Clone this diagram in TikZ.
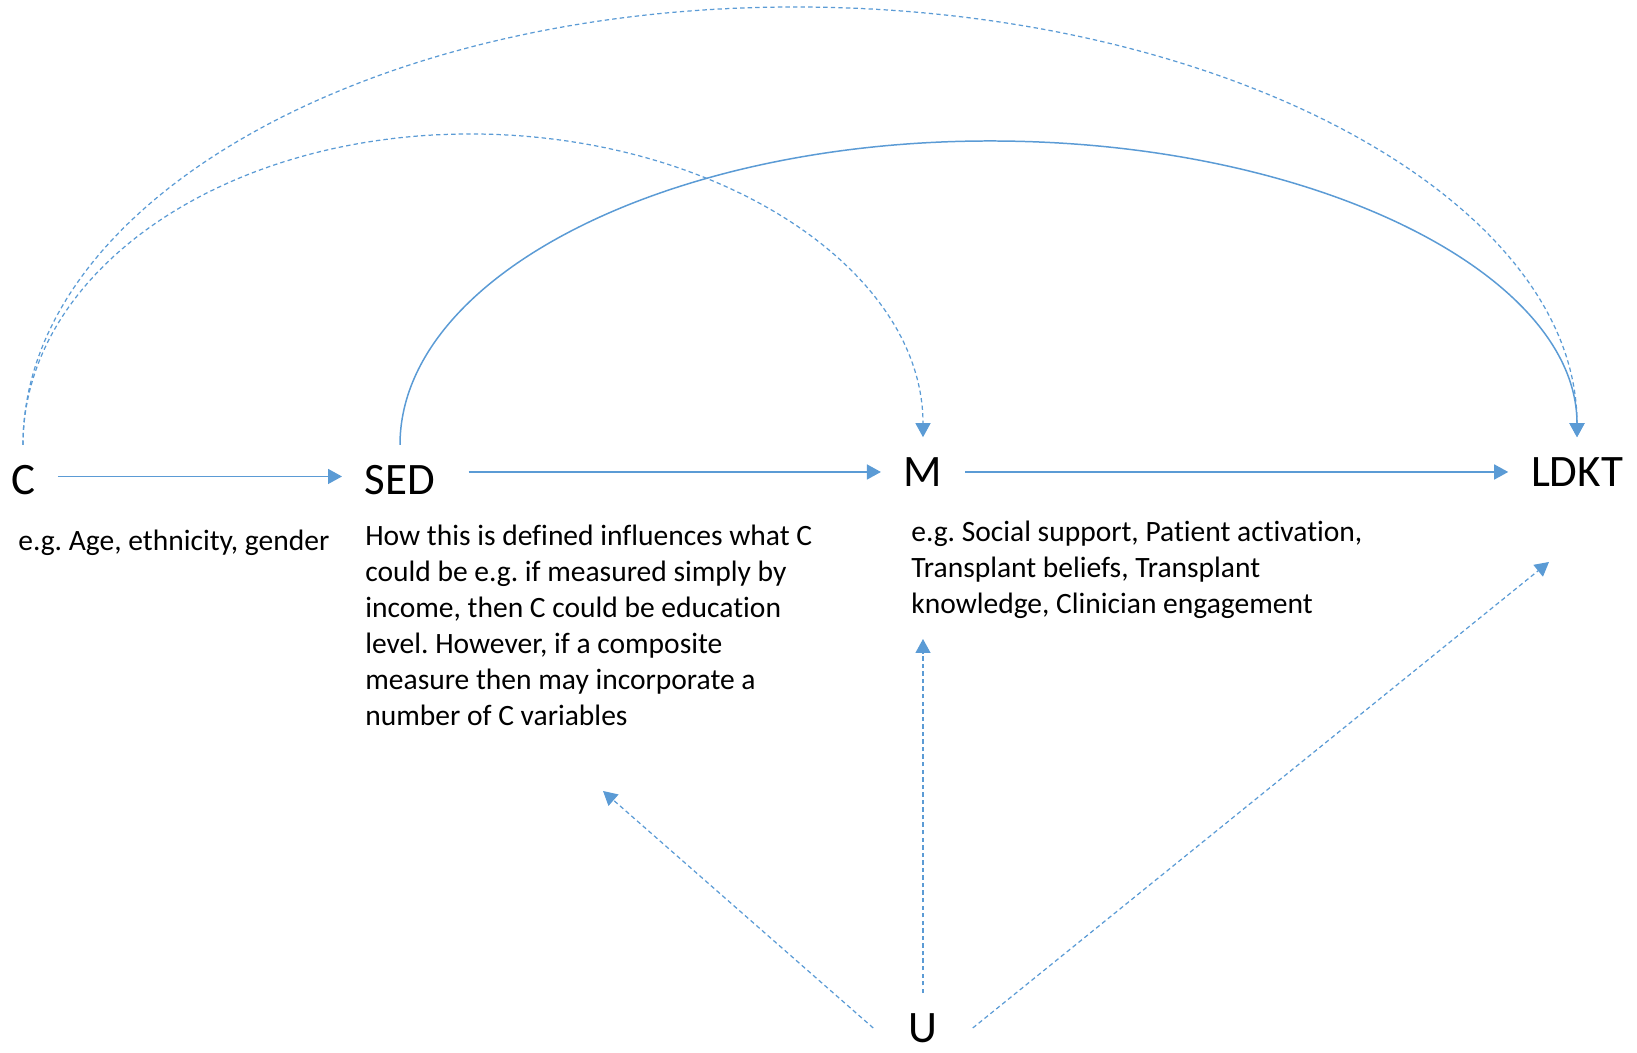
\documentclass[tikz,border=0pt]{standalone}
\usepackage{fontspec}
\setmainfont{Carlito}[Ligatures=NoCommon]
\usetikzlibrary{arrows.meta, positioning}
\frenchspacing

\definecolor{dagblue}{RGB}{91,155,213}

\tikzset{
  dagnode/.style={font=\fontsize{25.6}{30}\selectfont, inner xsep=0.45cm, inner ysep=0.4cm},
  note/.style={font=\fontsize{16.8}{20.5}\selectfont, align=left, inner sep=0pt, anchor=north west},
  causal/.style={draw=dagblue, line width=0.85pt, -{Triangle[length=0.28cm,width=0.3cm]}},
  unsure/.style={causal, line width=0.7pt, dash pattern=on 2.5pt off 1.8pt},
}

\begin{document}
\begin{tikzpicture}[x=0.02cm,y=0.02cm]
\useasboundingbox (0,0) rectangle (1637,1053);

% the causal chain
\node[dagnode] (C) at (23,573) {C};
\node[dagnode] (SED) at (400,573) {SED};
\node[dagnode] (M) at (923,581) {M};
\node[dagnode] (LDKT) at (1577,581) {LDKT};
\node[dagnode, inner xsep=0.7cm] (U) at (923,25) {U};

% notes under the nodes
\node[note] (Cnote) at (18,523) {e.g. Age, ethnicity, gender};
\node[note] (SEDnote) at (365,528) {How this is defined influences what C\\could be e.g. if measured simply by\\income, then C could be education\\level. However, if a composite\\measure then may incorporate a\\number of C variables};
\node[note] (Mnote) at (911,532) {e.g. Social support, Patient activation,\\Transplant beliefs, Transplant\\knowledge, Clinician engagement};

% tops of the arcs and free ends of the arrows from U
\coordinate (topCL) at (795,1046);
\coordinate (topCM) at (470,919);
\coordinate (topSL) at (990,912);
\coordinate (toSED) at (603,262);
\coordinate (toM) at (923,414);
\coordinate (toLDKT) at (1549,491);

\draw[causal] ([yshift=2pt]C.east) -- ([yshift=2pt]SED.west);
\draw[causal] ([xshift=6pt]SED.east |- M) -- (M.west);
\draw[causal] (M.east) -- (LDKT.west);

\draw[unsure] (C.north) .. controls +(0,242) and +(-429,0) .. (topCL)
  .. controls +(429,0) and +(0,237) .. (LDKT.north);
\draw[unsure] (C.north) .. controls +(0,172) and +(-249,0) .. (topCM)
  .. controls +(249,0) and +(0,167) .. (M.north);
\draw[causal] (SED.north) .. controls +(0,168) and +(-325,0) .. (topSL)
  .. controls +(325,0) and +(0,163) .. (LDKT.north);

\draw[unsure] (U.west) -- (toSED);
\draw[unsure] (U.north) -- (toM);
\draw[unsure] (U.east) -- (toLDKT);
\end{tikzpicture}
\end{document}
